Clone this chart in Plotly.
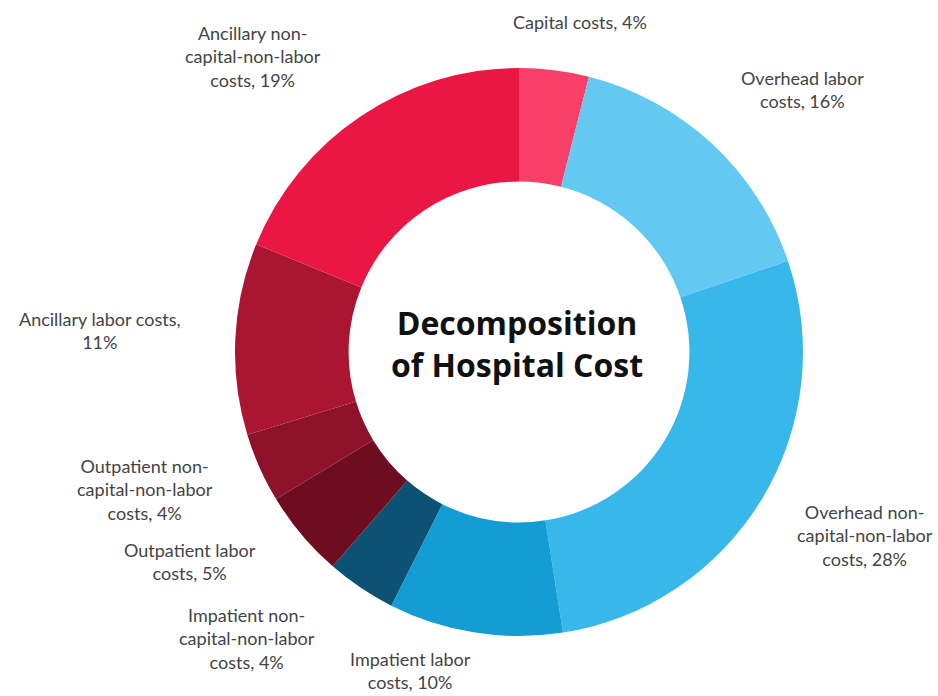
import plotly.graph_objects as go

labels = [
    "Capital costs",
    "Overhead labor costs",
    "Overhead non-capital-non-labor costs",
    "Impatient labor costs",
    "Impatient non-capital-non-labor costs",
    "Outpatient labor costs",
    "Outpatient non-capital-non-labor costs",
    "Ancillary labor costs",
    "Ancillary non-capital-non-labor costs",
]
values = [4, 16, 28, 10, 4, 5, 4, 11, 19]
colors = ["#F83F68", "#63C8F2", "#38B8EA", "#149DD5", "#0B5275",
          "#6E0D20", "#8E1229", "#AA1631", "#EA1745"]

label_texts = [
    "Capital costs, 4%",
    "Overhead labor<br>costs, 16%",
    "Overhead non-<br>capital-non-labor<br>costs, 28%",
    "Impatient labor<br>costs, 10%",
    "Impatient non-<br>capital-non-labor<br>costs, 4%",
    "Outpatient labor<br>costs, 5%",
    "Outpatient non-<br>capital-non-labor<br>costs, 4%",
    "Ancillary labor costs,<br>11%",
    "Ancillary non-<br>capital-non-labor<br>costs, 19%",
]
# label text centres in pixels (x, y from top)
label_pos = [(580, 22), (802, 90), (865, 535), (410, 670), (247, 638),
             (190, 561), (145, 490), (100, 330), (253, 57)]

W, H = 938, 696
cx, cy, r = 519, 352, 284

fig = go.Figure(go.Pie(
    labels=labels, values=values, sort=False, direction="clockwise", rotation=0,
    hole=0.6, marker=dict(colors=colors, line=dict(width=0)),
    textinfo="none", showlegend=False, hoverinfo="label+percent",
    domain=dict(x=[(cx - r) / W, (cx + r) / W], y=[1 - (cy + r) / H, 1 - (cy - r) / H]),
))

annotations = []
for t, (x, y) in zip(label_texts, label_pos):
    annotations.append(dict(
        text=t, x=x / W, y=1 - y / H, xref="paper", yref="paper",
        xanchor="center", yanchor="middle", showarrow=False, align="center",
        font=dict(family="Lato, Open Sans, sans-serif", size=18, color="#444444"),
    ))
annotations.append(dict(
    text="<b>Decomposition<br>of Hospital Cost</b>", x=517 / W, y=1 - 343 / H,
    xref="paper", yref="paper", xanchor="center", yanchor="middle", showarrow=False,
    align="center", font=dict(family="Open Sans, sans-serif", size=32, color="#111111"),
))

fig.update_layout(
    width=W, height=H, margin=dict(l=0, r=0, t=0, b=0),
    paper_bgcolor="white", plot_bgcolor="white", annotations=annotations,
)
fig.write_html("out.html")
